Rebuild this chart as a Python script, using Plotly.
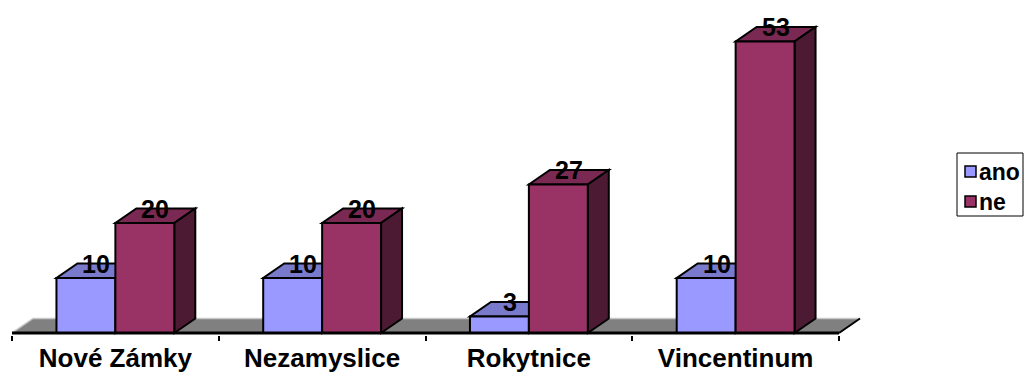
import plotly.graph_objects as go

# --- data -------------------------------------------------------------
categories = ["Nové Zámky", "Nezamyslice", "Rokytnice", "Vincentinum"]
series_names = ["ano", "ne"]
ano_values = [10, 10, 3, 10]
ne_values = [20, 20, 27, 53]

# --- geometry / style -------------------------------------------------
W, H = 1024, 374
M_L, M_R, M_T, M_B = 12, 160, 3, 39
PX_PER_CAT = 206.75          # horizontal pixels per category slot
PX_PER_UNIT = 5.5            # vertical pixels per value unit
BELOW_ZERO_PX = 2            # room under the baseline inside the plot area
DEPTH_PX = (21, 14.5)        # oblique depth offset of the 3D boxes
BARGAP = 0.43

plot_w = W - M_L - M_R
plot_h = H - M_T - M_B
x_range = [-0.5, -0.5 + plot_w / PX_PER_CAT]
y_range = [-BELOW_ZERO_PX / PX_PER_UNIT, (plot_h - BELOW_ZERO_PX) / PX_PER_UNIT]
DX = DEPTH_PX[0] / PX_PER_CAT
DY = DEPTH_PX[1] / PX_PER_UNIT
bar_w = (1 - BARGAP) / 2

colors = {
    "ano": {"front": "#9999FF", "top": "#7A7ACC", "side": "#4D4D80"},
    "ne": {"front": "#993366", "top": "#7A2952", "side": "#4C1A33"},
}
FONT = "Arial, 'Liberation Sans', sans-serif"


def poly(points):
    return "M " + " L ".join(f"{x},{y}" for x, y in points) + " Z"


fig = go.Figure()

series = [("ano", ano_values), ("ne", ne_values)]
for name, vals in series:
    fig.add_trace(go.Bar(
        x=categories, y=vals, name=name,
        marker=dict(color=colors[name]["front"], line=dict(color="black", width=2)),
        showlegend=False, hoverinfo="x+y+name",
    ))

shapes = []
n = len(categories)

# floor of the 3D plot
floor = [(-0.5, 0), (n - 0.5, 0), (n - 0.5 + DX, DY), (-0.5 + DX, DY)]
shapes.append(dict(type="path", path=poly(floor), xref="x", yref="y",
                   fillcolor="#808080", line=dict(width=0), layer="below"))
shapes.append(dict(type="path",
                   path=f"M {-0.5},0 L {-0.5 + DX},{DY} L {n - 0.5 + DX},{DY}",
                   xref="x", yref="y", line=dict(color="#C8C8C8", width=1.5), layer="below"))
shapes.append(dict(type="line", x0=n - 0.5, y0=0, x1=n - 0.5 + DX, y1=DY,
                   xref="x", yref="y", line=dict(color="black", width=2), layer="below"))

annotations = []
for i in range(n):
    for k, (name, vals) in enumerate(series):
        v = vals[i]
        x0 = i - bar_w + k * bar_w
        x1 = x0 + bar_w
        top = [(x0, v), (x1, v), (x1 + DX, v + DY), (x0 + DX, v + DY)]
        side = [(x1, 0), (x1 + DX, DY), (x1 + DX, v + DY), (x1, v)]
        for face, key in ((top, "top"), (side, "side")):
            shapes.append(dict(type="path", path=poly(face), xref="x", yref="y",
                               fillcolor=colors[name][key],
                               line=dict(color="black", width=2), layer="below"))
        annotations.append(dict(
            x=(x0 + x1) / 2 + DX / 2, y=v + DY, xref="x", yref="y",
            text=str(v), showarrow=False, xanchor="center", yanchor="middle",
            font=dict(family=FONT, size=25, color="black", weight="bold"),
        ))

# category axis baseline
shapes.append(dict(type="line", x0=-0.5, y0=0, x1=n - 0.5, y1=0, xref="x", yref="y",
                   line=dict(color="black", width=3), layer="above"))


# --- legend box (pixel layout converted to paper coordinates) ---------
def px(xp):
    return (xp - M_L) / plot_w


def py(yp):
    return (H - M_B - yp) / plot_h


LEG_L, LEG_T, LEG_R, LEG_B = 957, 153, 1023, 216
shapes.append(dict(type="rect", xref="paper", yref="paper",
                   x0=px(LEG_L), x1=px(LEG_R), y0=py(LEG_B), y1=py(LEG_T),
                   line=dict(color="black", width=1), fillcolor="white"))
for j, name in enumerate(series_names):
    cy = 171.5 + j * 30
    shapes.append(dict(type="rect", xref="paper", yref="paper",
                       x0=px(965), x1=px(976), y0=py(cy + 5.5), y1=py(cy - 5.5),
                       line=dict(color="black", width=1.5),
                       fillcolor=colors[name]["front"]))
    annotations.append(dict(
        x=px(977), y=py(cy), xref="paper", yref="paper", text=name,
        showarrow=False, xanchor="left", yanchor="middle",
        font=dict(family=FONT, size=23, color="black", weight="bold"),
    ))

fig.update_layout(
    width=W, height=H,
    margin=dict(l=M_L, r=M_R, t=M_T, b=M_B, pad=0, autoexpand=False),
    paper_bgcolor="white", plot_bgcolor="white",
    barmode="group", bargap=BARGAP, bargroupgap=0,
    shapes=shapes, annotations=annotations,
    showlegend=False,
    xaxis=dict(type="category", range=x_range, tickson="boundaries",
               ticks="outside", ticklen=5, tickwidth=2, tickcolor="black",
               ticklabelstandoff=5, automargin=False,
               showgrid=False, zeroline=False, showline=False,
               tickfont=dict(family=FONT, size=26, color="black", weight="bold")),
    yaxis=dict(range=y_range, visible=False, showgrid=False, zeroline=False,
               automargin=False),
)

fig.write_html("out.html")
